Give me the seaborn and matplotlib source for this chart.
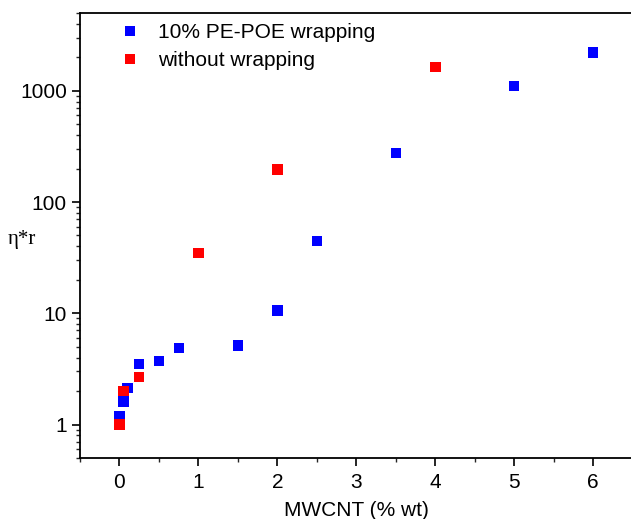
import numpy as np
import pandas as pd
import seaborn as sns
import matplotlib.pyplot as plt
from matplotlib.ticker import LogLocator, FixedLocator, NullFormatter

# wrapped samples
x_wrap = [0, 0.05, 0.1, 0.25, 0.5, 0.75, 1.5, 2, 2.5, 3.5, 5, 6]
y_wrap = [1.19, 1.61, 2.13, 3.5, 3.75, 4.86, 5.14, 10.6, 44.3, 277, 1104, 2200]
# no wrapping
x_bare = [0, 0.05, 0.25, 1, 2, 4]
y_bare = [1.0, 1.99, 2.69, 34.9, 196, 1640]

lab_wrap = '10% PE-POE wrapping'
lab_bare = 'without wrapping'

df = pd.DataFrame({
    'x': x_wrap + x_bare,
    'y': y_wrap + y_bare,
    'serie': [lab_wrap] * len(x_wrap) + [lab_bare] * len(x_bare),
})

sns.set_style('ticks')
plt.rcParams['font.family'] = ['Liberation Sans', 'DejaVu Sans']
plt.rcParams['text.color'] = 'black'
plt.rcParams['axes.labelcolor'] = 'black'

fig = plt.figure(figsize=(6.31, 5.19), dpi=100)
ax = fig.add_axes([0.1268, 0.1175, 0.876, 0.8575])

sns.scatterplot(data=df, x='x', y='y', hue='serie',
                palette={lab_wrap: '#0000ff', lab_bare: '#ff0000'},
                marker='s', s=55, linewidth=0, ax=ax)

ax.set_yscale('log')
ax.set_xlim(-0.5, 6.5)
ax.set_ylim(0.5, 5000)
ax.set_xticks([0, 1, 2, 3, 4, 5, 6])
ax.xaxis.set_minor_locator(FixedLocator(np.arange(-0.5, 6.6, 1.0)))
ax.set_yticks([1, 10, 100, 1000])
ax.set_yticklabels(['1', '10', '100', '1000'])
ax.yaxis.set_minor_locator(LogLocator(base=10, subs=np.arange(2, 10)))
ax.yaxis.set_minor_formatter(NullFormatter())

ax.tick_params(axis='both', which='major', direction='out', length=6,
               width=1.2, labelsize=15, colors='black')
ax.tick_params(axis='x', which='major', pad=5)
ax.tick_params(axis='both', which='minor', direction='out', length=3,
               width=1.0)
for side in ['left', 'bottom', 'top']:
    ax.spines[side].set_linewidth(1.3)
    ax.spines[side].set_color('black')
ax.spines['right'].set_visible(False)

ax.set_xlabel('MWCNT (% wt)', fontsize=15, labelpad=6)
ax.set_ylabel('η*r', fontsize=15, rotation=0, family='Liberation Serif',
              ha='center', va='center')
ax.yaxis.set_label_coords(-0.105, 0.49)

ax.legend(loc='upper left', bbox_to_anchor=(0.018, 1.02), frameon=False,
          fontsize=15, handletextpad=0.35, labelspacing=0.45,
          markerscale=1.0, title=None)

fig.savefig('out.png', dpi=100)
